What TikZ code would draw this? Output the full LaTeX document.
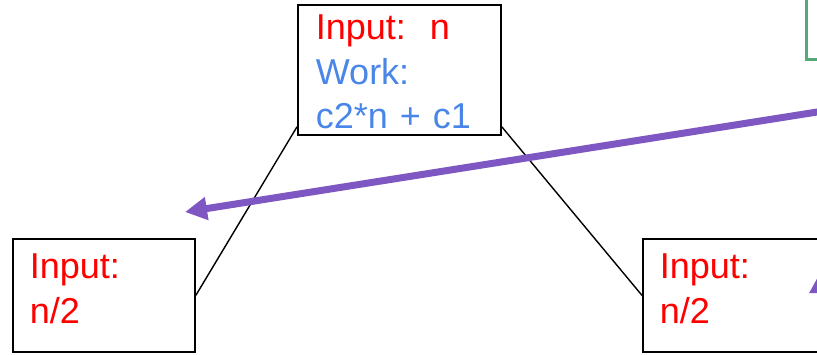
\documentclass[tikz,border=0pt]{standalone}
\usepackage{fontspec}
\setmainfont{Liberation Sans}
\usetikzlibrary{arrows.meta}

\definecolor{inred}{RGB}{255,0,0}
\definecolor{workblue}{RGB}{74,134,232}
\definecolor{notegreen}{RGB}{84,170,118}
\definecolor{callpurple}{RGB}{126,87,194}

\tikzset{
  callbox/.style={draw=black, line width=1.8pt, anchor=north west, inner ysep=0pt,
    align=left, text=inred, font=\fontsize{36}{44.5}\selectfont},
  halfbox/.style={callbox, inner xsep=17pt, text width=148pt, text height=40pt, text depth=73pt},
  treeline/.style={line width=1.4pt},
  pointer/.style={draw=callpurple, line width=7pt, -{Triangle[length=22pt,width=22pt]}},
}

\begin{document}
\begin{tikzpicture}[x=1pt,y=-1pt]
\useasboundingbox (0,0) rectangle (817,354);
\clip (0,0) rectangle (817,354);

% root call
\node[callbox, inner xsep=18pt, text width=167pt, text height=35pt, text depth=95pt]
  (root) at (297,4) {Input:\ \ n\\\textcolor{workblue}{Work:}\\\textcolor{workblue}{c2*n + c1}};

% the two halves
\node[halfbox] (lefthalf) at (12,238) {Input:\\n/2};
\node[halfbox] (righthalf) at (642,238) {Input:\\n/2};

\draw[treeline] ([yshift=9pt]root.south west) -- (lefthalf.east);
\draw[treeline] ([yshift=9pt]root.south east) -- (righthalf.west);

% note box, cut at the edge
\node[draw=notegreen, line width=3pt, anchor=south west, minimum width=100pt,
  minimum height=100pt] (note) at (805,61) {};

% arrows
\coordinate (ptrfrom) at (850,106.8);
\coordinate (ptrto) at (185,212);
\draw[pointer] (ptrfrom) -- (ptrto);

\coordinate (upfrom) at (821,380);
\coordinate (upto) at (821,271);
\draw[pointer] (upfrom) -- (upto);

\end{tikzpicture}
\end{document}
